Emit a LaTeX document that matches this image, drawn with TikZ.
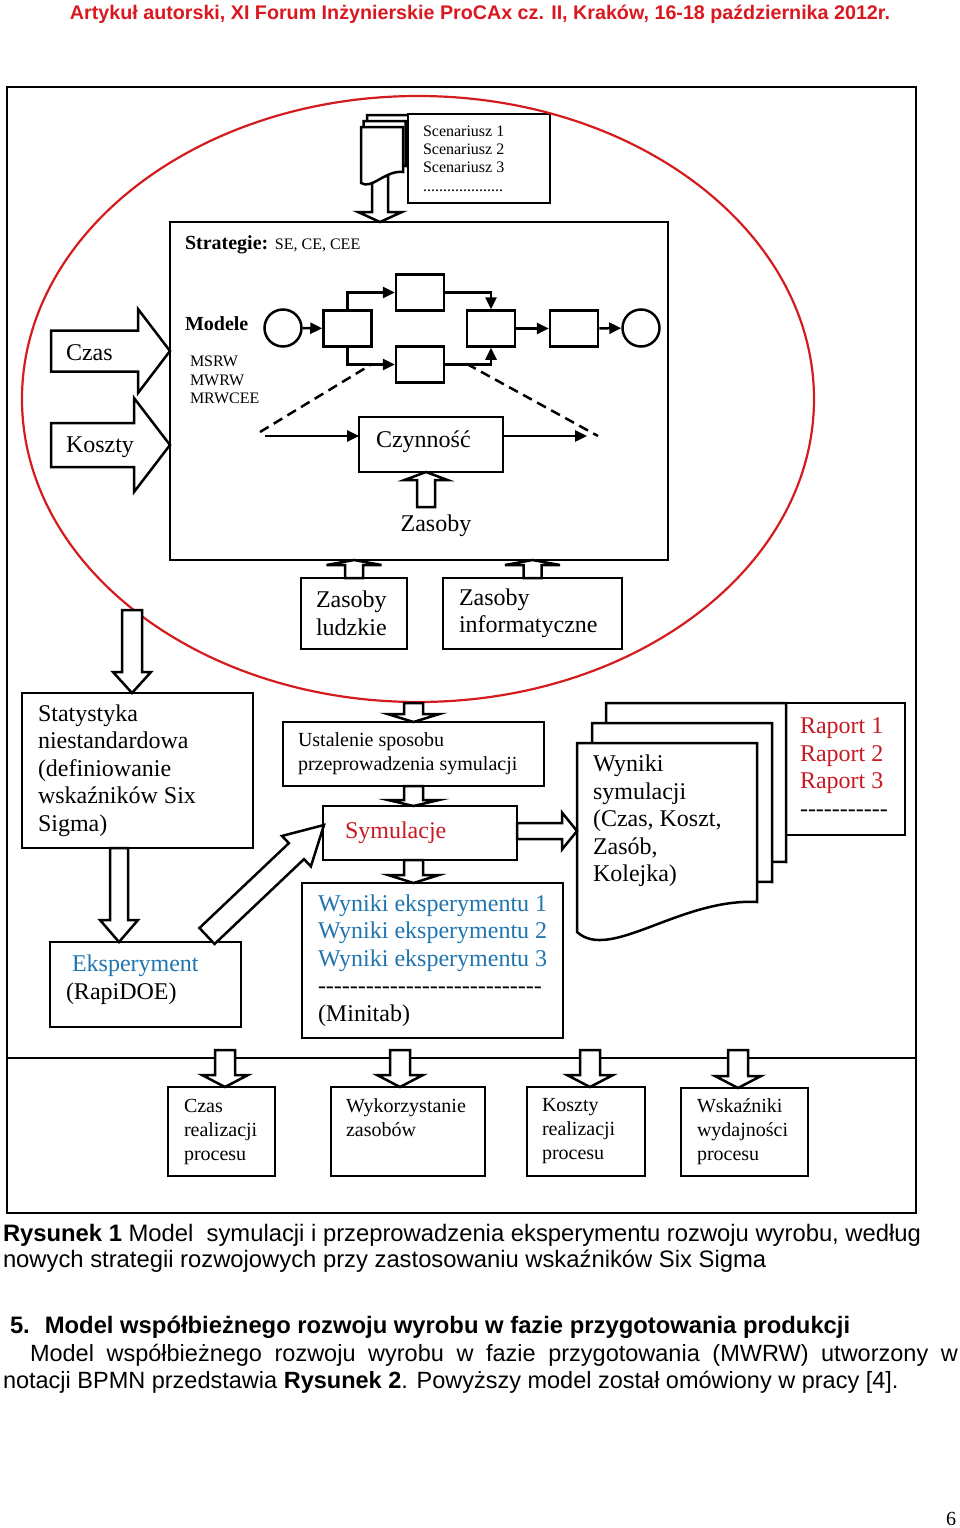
\documentclass[tikz,border=0pt]{standalone}
\usepackage{fontspec}
\setmainfont{Liberation Serif}[Ligatures=TeXOff]
\newfontfamily\arialf{Liberation Sans}
\usetikzlibrary{calc,positioning,arrows.meta}

\definecolor{hdrred}{RGB}{218,24,32}
\definecolor{ellred}{RGB}{212,28,30}
\definecolor{symred}{RGB}{200,25,35}
\definecolor{eblue}{RGB}{32,116,175}

\tikzset{
  box/.style={draw, fill=white, line width=2.5pt, inner sep=0pt, outer sep=0pt},
  txt/.style={inner sep=0pt, outer sep=0pt, align=left},
  t24/.style={font=\fontsize{24}{27.5}\selectfont},
  t20/.style={font=\fontsize{20}{24}\selectfont},
  t16/.style={font=\fontsize{16}{18.4}\selectfont},
  capt/.style={font=\arialf\fontsize{23.8}{27}\selectfont, inner sep=0pt, outer sep=0pt},
  body/.style={font=\arialf\fontsize{23.5}{27}\selectfont, inner sep=0pt, outer sep=0pt},
  fatarr/.style={draw, fill=white, line width=2.5pt, line join=miter},
  flow/.style={line width=2.5pt, -{Triangle[length=12pt,width=11pt]}},
  doc/.style={draw, fill=white, line width=2.5pt},
  event/.style={circle, draw, line width=2.5pt, minimum size=37pt, inner sep=0pt},
  task/.style={draw, line width=2.5pt, minimum width=48pt, minimum height=36pt, inner sep=0pt},
}

% hollow block arrow: [opts]{from}{to}{shaft half width}{head half width}{head length}
\newcommand{\fatarrow}[6][]{%
  \path[fatarr,#1]
    ($(#2)!#4pt!90:(#3)$)
    -- ($(#3)!#6pt!(#2)!#4pt!270:(#2)$)
    -- ($(#3)!#6pt!(#2)!#5pt!270:(#2)$)
    -- (#3)
    -- ($(#3)!#6pt!(#2)!#5pt!90:(#2)$)
    -- ($(#3)!#6pt!(#2)!#4pt!90:(#2)$)
    -- ($(#2)!#4pt!270:(#3)$)
    -- cycle;}

\begin{document}
\begin{tikzpicture}[x=1pt, y=-1pt]
  \useasboundingbox (0,0) rectangle (960,1528);

  % page header
  \node[font=\arialf\bfseries\fontsize{19.7}{22}\selectfont, text=hdrred] (hdr) at (480,14)
    {Artykuł autorski, XI Forum Inżynierskie ProCAx cz. II, Kraków, 16-18 października 2012r.};

  % frame of the figure
  \draw[line width=1.5pt] (7,87) rectangle (916,1213);
  \draw[line width=1.5pt] (7,1058) -- (916,1058);

  % strategies box
  \node[box, minimum width=498pt, minimum height=338pt] (strat) at (419,391) {};
  \node[txt, t20, anchor=base west] (stratT) at (185,249)
    {\textbf{Strategie:} {\fontsize{16}{18}\selectfont SE, CE, CEE}};
  \node[txt, t20, anchor=base west] (modT) at (185,330) {\textbf{Modele}};
  \node[txt, t16, anchor=west] (modL) at (190,380) {MSRW\\MWRW\\MRWCEE};

  % BPMN model
  \node[event] (evStart) at (283,328) {};
  \node[task] (tA) at (347.5,328.5) {};
  \node[task] (tB) at (420,292.5) {};
  \node[task] (tC) at (491,328.5) {};
  \node[task] (tD) at (574,328.5) {};
  \node[event] (evEnd) at (641,328) {};
  \node[task] (tE) at (420,364.5) {};
  \draw[flow] (evStart) -- (tA);
  \draw[flow] (tA.north) |- (tB.west);
  \draw[flow] (tB.east) -| (tC.north);
  \draw[flow] (tC) -- (tD);
  \draw[flow] (tD) -- (evEnd);
  \draw[flow] (tA.south) |- (tE.west);
  \draw[flow] (tE.east) -| (tC.south);

  % activity
  \coordinate (dL1) at (260,432);
  \coordinate (dL2) at (372,364);
  \coordinate (dR1) at (467,364);
  \coordinate (dR2) at (598,436);
  \draw[line width=2.5pt, dash pattern=on 10pt off 6pt] (dL1) -- (dL2);
  \draw[line width=2.5pt, dash pattern=on 10pt off 6pt] (dR1) -- (dR2);
  \node[box, minimum width=144pt, minimum height=55pt] (czyn) at (431,444.5) {};
  \node[txt, t24, right=17pt of czyn.west, yshift=3pt] (czynT) {Czynność};
  \coordinate (inL) at (265,436);
  \coordinate (outR) at (587,436);
  \draw[flow] (inL) -- (inL -| czyn.west);
  \draw[flow] (czyn.east |- inL) -- (outR);
  \node[txt, t24] (zas) at (436,526) {Zasoby};
  \coordinate (zasIn) at (426,507);
  \fatarrow{zasIn}{zasIn |- czyn.south}{9}{21.5}{8}

  % scenarios
  \coordinate (scenDoc) at (380,176);
  \fatarrow{scenDoc}{scenDoc |- strat.north}{8}{22}{10}
  \foreach \dx/\dy in {6/-12, 2.5/-6, 0/0}
    \draw[doc, shift={(\dx,\dy)}] (361,127) -- (403,127) -- (403,172)
      .. controls (385,170) and (372,190) .. (361,183) -- cycle;
  \node[box, minimum width=142pt, minimum height=89pt] (scen) at (479,158.5) {};
  \node[txt, t16, right=15pt of scen.west] (scenT)
    {Scenariusz 1\\Scenariusz 2\\Scenariusz 3\\....................};

  % time and costs
  \coordinate (czasIn) at (51,351);
  \fatarrow{czasIn}{czasIn -| strat.west}{20.5}{42}{32}
  \node[txt, t24, anchor=west] (czasT) at (66,353) {Czas};
  \coordinate (kosIn) at (51,445);
  \fatarrow{kosIn}{kosIn -| strat.west}{22}{47}{36}
  \node[txt, t24, anchor=west] (kosT) at (66,447) {Koszty};

  % resources
  \node[box, minimum width=106pt, minimum height=71pt] (zl) at (354,613.5) {};
  \node[txt, t24, right=15pt of zl.west] (zlT) {Zasoby\\ludzkie};
  \node[box, minimum width=179pt, minimum height=71pt] (zi) at (532.5,613.5) {};
  \node[txt, t24, right=16pt of zi.west] (ziT) {Zasoby\\informatyczne};
  \fatarrow{zl.north}{zl.north |- strat.south}{9}{27.5}{5}
  \fatarrow{zi.north}{zi.north |- strat.south}{9}{27.5}{5}

  % model boundary
  \draw[ellred, line width=2.2pt] (418,399) ellipse [x radius=396, y radius=303];

  % left column
  \node[box, minimum width=231pt, minimum height=155pt] (stat) at (137.5,770.5) {};
  \node[txt, t24, right=16pt of stat.west] (statT)
    {Statystyka\\niestandardowa\\(definiowanie\\wskaźników Six\\Sigma)};
  \coordinate (statIn) at (132,610);
  \fatarrow{statIn}{statIn |- stat.north}{10}{19}{21}
  \node[box, minimum width=191pt, minimum height=85pt] (eksp) at (145.5,984.5) {};
  \node[txt, t24, right=16pt of eksp.west, yshift=5pt] (ekspT)
    {\hspace*{6pt}\textcolor{eblue}{Eksperyment}\\(RapiDOE)};
  \coordinate (statOut) at ([xshift=-18.5pt]stat.south);
  \fatarrow{statOut}{statOut |- eksp.north}{9}{19}{22}

  % middle column
  \node[box, minimum width=261pt, minimum height=64pt] (ustal) at (413.5,754) {};
  \node[txt, t20, right=15pt of ustal.west] (ustalT)
    {Ustalenie sposobu\\przeprowadzenia symulacji};
  \node[box, minimum width=194pt, minimum height=54pt] (symul) at (420,833) {};
  \node[txt, t24, right=22pt of symul.west, text=symred] (symulT) {Symulacje};
  \node[box, minimum width=261pt, minimum height=155pt] (wynE) at (432.5,960.5) {};
  \node[txt, t24, right=16pt of wynE.west] (wynET)
    {\textcolor{eblue}{Wyniki eksperymentu 1}\\\textcolor{eblue}{Wyniki eksperymentu 2}\\
     \textcolor{eblue}{Wyniki eksperymentu 3}\\----------------------------\\(Minitab)};
  \coordinate (ellBot) at (413.5,703);
  \fatarrow{ellBot}{ellBot |- ustal.north}{9.5}{26}{8}
  \fatarrow{ustal.south}{ustal.south |- symul.north}{9.5}{25.5}{6}
  \fatarrow{ustal.south |- symul.south}{ustal.south |- wynE.north}{9.5}{25.5}{8}
  \coordinate (ekspOut) at ([shift={(-34,-6)}]eksp.north east);
  \coordinate (symIn) at ([shift={(1,-8)}]symul.west);
  \fatarrow{ekspOut}{symIn}{11}{21}{38}

  % simulation results and reports
  \node[box, minimum width=119pt, minimum height=132pt] (rap) at (845.5,769) {};
  \node[txt, t24, right=14pt of rap.west, yshift=2pt] (rapT)
    {\textcolor{symred}{Raport 1}\\\textcolor{symred}{Raport 2}\\\textcolor{symred}{Raport 3}\\-----------};
  \foreach \dx/\dy in {29/-40, 15/-20, 0/0}
    \draw[doc, shift={(\dx,\dy)}] (577,743) -- (757,743) -- (757,902)
      .. controls (680,898) and (610,962) .. (577,932) -- cycle;
  \node[txt, t24, anchor=west] (wsT) at (593,821)
    {Wyniki\\symulacji\\(Czas, Koszt,\\Zasób,\\Kolejka)};
  \coordinate (docIn) at (577,831);
  \fatarrow{symul.east |- docIn}{docIn}{8}{18.5}{15}

  % process measures
  \node[box, minimum width=107pt, minimum height=89pt] (b1) at (221.5,1131.5) {};
  \node[txt, t20, right=16pt of b1.west] (b1T) {Czas\\realizacji\\procesu};
  \node[box, minimum width=154pt, minimum height=89pt] (b2) at (408,1131.5) {};
  \node[txt, t20, right=15pt of b2.west, yshift=13.5pt] (b2T) {Wykorzystanie\\zasobów};
  \node[box, minimum width=118pt, minimum height=89pt] (b3) at (586,1131.5) {};
  \node[txt, t20, right=15pt of b3.west] (b3T) {Koszty\\realizacji\\procesu};
  \node[box, minimum width=127pt, minimum height=88pt] (b4) at (744.5,1132) {};
  \node[txt, t20, right=16pt of b4.west] (b4T) {Wskaźniki\\wydajności\\procesu};
  \foreach \b/\x in {b1/225, b2/400, b3/590, b4/738}{
    \coordinate (\b top) at (\x,1050);
    \fatarrow{\b top}{\b top |- \b.north}{10}{23}{12}
  }

  % caption and text
  \node[capt, anchor=base west] (cap1) at (3,1241)
    {\textbf{Rysunek 1} Model~ symulacji i przeprowadzenia eksperymentu rozwoju wyrobu, według};
  \node[capt, anchor=base west] (cap2) at (3,1267)
    {nowych strategii rozwojowych przy zastosowaniu wskaźników Six Sigma};
  \node[capt, anchor=base west] (sec) at (10,1333)
    {\textbf{5.\hspace{15pt}Model współbieżnego rozwoju wyrobu w fazie przygotowania produkcji}};
  \node[body, anchor=base west] (par1) at (30,1361)
    {\makebox[928pt][s]{Model współbieżnego rozwoju wyrobu w fazie przygotowania (MWRW) utworzony w}};
  \node[body, anchor=base west] (par2) at (3,1388)
    {notacji BPMN przedstawia \textbf{Rysunek 2}. Powyższy model został omówiony w pracy [4].};
  \node[font=\fontsize{20}{24}\selectfont, inner sep=0pt, anchor=base] (pg) at (951,1525) {6};
\end{tikzpicture}
\end{document}
